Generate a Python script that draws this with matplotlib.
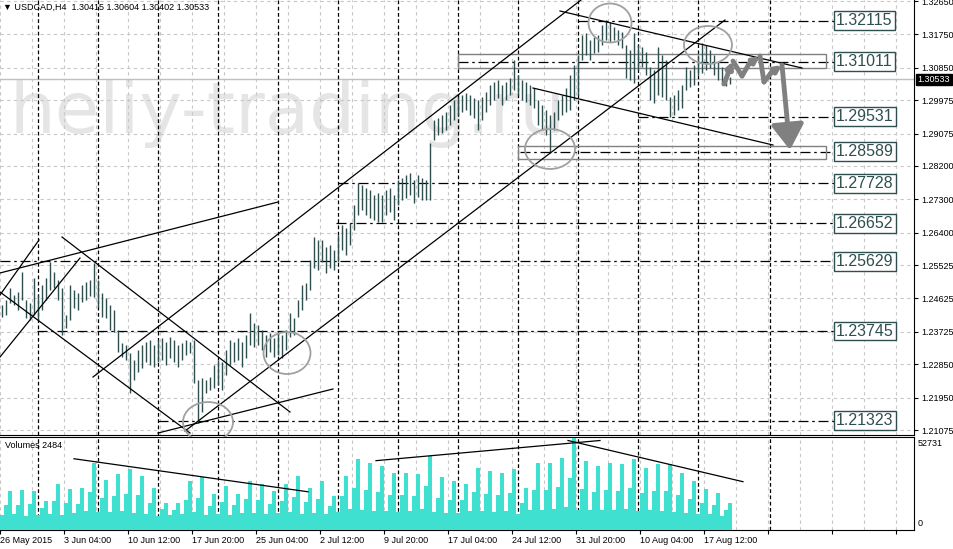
import numpy as np
import matplotlib.pyplot as plt
from matplotlib.patches import Ellipse, Rectangle
from matplotlib.transforms import blended_transform_factory

plt.rcParams['font.family'] = ['Liberation Sans', 'DejaVu Sans']

# USDCAD H4, one entry per two H4 bars (26 May 2015 20:00 ... 19 Aug 2015)
high = [
    1.2444, 1.2458, 1.2490, 1.2472, 1.2480, 1.2534, 1.2458, 1.2450, 1.2517, 1.2472,
    1.2499, 1.2517, 1.2561, 1.2534, 1.2512, 1.2490, 1.2418, 1.2499, 1.2485, 1.2477,
    1.2499, 1.2507, 1.2512, 1.2558, 1.2512, 1.2477, 1.2463, 1.2444, 1.2431, 1.2377,
    1.2342, 1.2337, 1.2315, 1.2296, 1.2323, 1.2337, 1.2345, 1.2350, 1.2337, 1.2350,
    1.2355, 1.2345, 1.2358, 1.2350, 1.2337, 1.2342, 1.2350, 1.2345, 1.2350, 1.2242,
    1.2247, 1.2242, 1.2250, 1.2283, 1.2296, 1.2291, 1.2323, 1.2350, 1.2345, 1.2355,
    1.2345, 1.2364, 1.2423, 1.2396, 1.2391, 1.2377, 1.2364, 1.2369, 1.2355, 1.2369,
    1.2364, 1.2377, 1.2423, 1.2409, 1.2458, 1.2499, 1.2504, 1.2566, 1.2628, 1.2620,
    1.2620, 1.2601, 1.2607, 1.2593, 1.2634, 1.2661, 1.2652, 1.2666, 1.2715, 1.2774,
    1.2769, 1.2760, 1.2755, 1.2742, 1.2747, 1.2742, 1.2755, 1.2760, 1.2742, 1.2782,
    1.2787, 1.2796, 1.2801, 1.2782, 1.2796, 1.2787, 1.2782, 1.2882, 1.2944, 1.2949,
    1.2958, 1.2966, 1.2985, 1.2998, 1.3006, 1.3012, 1.3017, 1.3012, 1.3003, 1.2998,
    1.3006, 1.3020, 1.3039, 1.3047, 1.3052, 1.3039, 1.3047, 1.3057, 1.3106, 1.3066,
    1.3052, 1.3047, 1.3039, 1.3030, 1.2998, 1.2985, 1.2971, 1.2958, 1.2966, 1.2998,
    1.3012, 1.3030, 1.3066, 1.3093, 1.3120, 1.3174, 1.3179, 1.3160, 1.3168, 1.3174,
    1.3201, 1.3214, 1.3209, 1.3195, 1.3187, 1.3182, 1.3147, 1.3133, 1.3179, 1.3147,
    1.3141, 1.3128, 1.3087, 1.3079, 1.3141, 1.3120, 1.3106, 1.3006, 1.3012, 1.3025,
    1.3039, 1.3087, 1.3079, 1.3093, 1.3120, 1.3152, 1.3147, 1.3133, 1.3120, 1.3101,
    1.3087, 1.3075, 1.3060]
low = [
    1.2412, 1.2418, 1.2450, 1.2444, 1.2431, 1.2458, 1.2409, 1.2404, 1.2418, 1.2404,
    1.2431, 1.2458, 1.2485, 1.2490, 1.2458, 1.2364, 1.2382, 1.2404, 1.2436, 1.2431,
    1.2453, 1.2458, 1.2469, 1.2466, 1.2439, 1.2412, 1.2409, 1.2377, 1.2372, 1.2318,
    1.2304, 1.2296, 1.2207, 1.2242, 1.2264, 1.2274, 1.2291, 1.2283, 1.2277, 1.2291,
    1.2296, 1.2283, 1.2301, 1.2291, 1.2277, 1.2296, 1.2310, 1.2315, 1.2234, 1.2126,
    1.2156, 1.2207, 1.2215, 1.2220, 1.2229, 1.2215, 1.2256, 1.2283, 1.2291, 1.2296,
    1.2277, 1.2301, 1.2337, 1.2331, 1.2337, 1.2323, 1.2304, 1.2318, 1.2304, 1.2310,
    1.2301, 1.2323, 1.2358, 1.2364, 1.2412, 1.2431, 1.2458, 1.2485, 1.2544, 1.2539,
    1.2561, 1.2531, 1.2544, 1.2539, 1.2561, 1.2593, 1.2580, 1.2607, 1.2647, 1.2688,
    1.2701, 1.2688, 1.2679, 1.2674, 1.2669, 1.2669, 1.2688, 1.2696, 1.2674, 1.2715,
    1.2728, 1.2733, 1.2742, 1.2720, 1.2736, 1.2728, 1.2728, 1.2728, 1.2890, 1.2904,
    1.2909, 1.2917, 1.2931, 1.2944, 1.2958, 1.2966, 1.2971, 1.2958, 1.2949, 1.2917,
    1.2944, 1.2966, 1.2985, 1.2998, 1.3003, 1.2985, 1.2998, 1.3012, 1.3025, 1.3012,
    1.2998, 1.2993, 1.2985, 1.2976, 1.2931, 1.2917, 1.2904, 1.2855, 1.2917, 1.2944,
    1.2958, 1.2966, 1.2971, 1.2998, 1.3012, 1.3106, 1.3120, 1.3106, 1.3125, 1.3128,
    1.3147, 1.3160, 1.3155, 1.3160, 1.3147, 1.3138, 1.3057, 1.3052, 1.3044, 1.3079,
    1.3087, 1.3066, 1.2998, 1.2990, 1.3012, 1.3006, 1.2998, 1.2952, 1.2958, 1.2971,
    1.2976, 1.3025, 1.3033, 1.3039, 1.3066, 1.3071, 1.3079, 1.3084, 1.3066, 1.3052,
    1.3039, 1.3035, 1.3040]

# tick volume in thousands, same sampling (3 per day)
volume_k = [
    8.1, 14.3, 22.3, 8.8, 13.9, 22.9, 7.9, 14.8, 22.3, 8.2, 12.1, 16.6,
    9.0, 16.2, 26.4, 8.5, 15.0, 23.5, 9.3, 14.6, 24.0, 10.4, 21.8, 38.4,
    9.8, 17.9, 28.6, 10.1, 19.5, 32.0, 10.9, 20.2, 35.0, 9.5, 19.6, 31.0,
    9.1, 15.4, 24.0, 7.8, 11.9, 15.5, 8.3, 11.4, 15.0, 9.2, 17.1, 28.0,
    9.9, 18.3, 30.0, 8.4, 13.8, 20.6, 9.0, 15.9, 25.0, 8.6, 14.2, 20.6,
    9.6, 17.4, 28.0, 9.3, 16.8, 26.4, 8.7, 14.5, 22.3, 9.4, 16.6, 26.4,
    10.2, 18.8, 31.0, 9.0, 15.7, 24.0, 9.5, 17.6, 28.0, 8.8, 13.4, 19.0,
    10.3, 19.0, 31.0, 11.6, 24.1, 40.7, 11.2, 22.9, 38.4, 10.9, 21.6, 36.7,
    10.5, 20.1, 32.7, 10.2, 19.8, 32.7, 10.4, 19.2, 32.0, 11.8, 24.8, 42.4,
    10.0, 18.4, 30.0, 9.7, 17.2, 28.0, 9.4, 16.9, 26.4, 10.8, 21.3, 35.5,
    10.6, 20.4, 33.8, 10.3, 19.9, 32.7, 10.7, 21.0, 35.0, 9.2, 15.5, 24.0,
    11.1, 22.6, 38.4, 11.3, 23.0, 38.4, 11.7, 24.4, 41.0, 13.2, 29.9, 52.7,
    11.5, 23.5, 39.5, 11.0, 21.8, 36.7, 11.2, 22.7, 38.4, 11.1, 22.3, 37.8,
    11.6, 24.0, 40.7, 10.8, 21.1, 35.5, 11.0, 22.4, 37.8, 10.9, 22.1, 37.8,
    10.3, 19.6, 32.7, 9.7, 17.3, 28.0, 9.1, 15.2, 23.5, 8.8, 14.0, 21.0,
    8.0, 11.0, 15.0]

date_labels = ['26 May 2015', '3 Jun 04:00', '10 Jun 12:00', '17 Jun 20:00',
               '25 Jun 04:00', '2 Jul 12:00', '9 Jul 20:00', '17 Jul 04:00',
               '24 Jul 12:00', '31 Jul 20:00', '10 Aug 04:00', '17 Aug 12:00']
price_ticks = [1.32650, 1.31750, 1.30850, 1.29975, 1.29075, 1.28200, 1.27300,
               1.26400, 1.25525, 1.24625, 1.23725, 1.22850, 1.21950, 1.21075]

# horizontal levels and the bar index where each starts
levels = [1.32115, 1.31011, 1.29531, 1.28589, 1.27728, 1.26652, 1.25629, 1.23745, 1.21323]
level_start = [288.5, 228.5, 318.5, 259.5, 168.5, 167.5, -0.5, 18, 78.5]

# trend lines (bar index, price)
trend_lines = [
    ((46, 1.22505), (290, 1.32678)),
    ((92, 1.21048), (362, 1.32138)),
    ((-0.5, 1.24718), (19, 1.26202)),
    ((-0.5, 1.23045), (39.5, 1.25716)),
    ((-0.5, 1.25312), (138.5, 1.27227)),
    ((-0.5, 1.24799), (94.5, 1.20994)),
    ((30.5, 1.26283), (144.5, 1.21561)),
    ((78.5, 1.20994), (166, 1.22182)),
    ((279.5, 1.32381), (400.5, 1.30843)),
    ((266, 1.30303), (386, 1.28765)),
]
vol_lines = [
    ((36.5, 40700), (153.5, 21700)),
    ((187.5, 39600), (299.5, 51200)),
    ((283.5, 51200), (371, 27500)),
]
# circles: centre bar, centre price, width (bars), height (price)
circles = [(103.5, 1.21291, 25, 0.01079), (143, 1.23153, 23.5, 0.01133),
           (274.5, 1.28658, 25, 0.01079), (304.5, 1.32057, 21.5, 0.01052),
           (353.5, 1.31464, 24, 0.01025)]
boxes = [(228.5, 412.5, 1.30835, 1.31213), (258.5, 412.5, 1.28388, 1.28738)]
zig_x = [361.5, 366, 370.5, 374, 379.5, 381.5, 385, 390.5, 394.5]
zig_y = [1.30411, 1.31032, 1.30627, 1.30951, 1.31167, 1.30465, 1.30708, 1.30924, 1.28631]
separators = [18.5 + 30 * k for k in range(12)] + [384.5]

bar_color = '#2F4F4F'
grid_kw = dict(color='#C8C8C8', ls=(0, (3, 3)), lw=0.8)

fig = plt.figure(figsize=(9.54, 5.49), dpi=100)
ax = fig.add_axes([0, 1 - 434.5 / 549, 914 / 954, 434.5 / 549])
axv = fig.add_axes([0, 1 - 529.5 / 549, 914 / 954, 93 / 549])

xs = 2 * np.arange(len(high)) + 0.5
major = np.arange(-0.5, 457, 32)
minor = np.arange(15.5, 457, 32)
for a in (ax, axv):
    a.set_xlim(-0.5, 456.5)
    a.set_xticks(major)
    a.set_xticks(minor, minor=True)
    a.spines['left'].set_visible(False)
    a.spines['top'].set_visible(False)
axv.spines['top'].set_visible(True)

# price panel
ax.set_ylim(1.20954, 1.32678)
ax.yaxis.tick_right()
ax.set_yticks(price_ticks)
ax.set_yticklabels([f'{t:.5f}' for t in price_ticks])
ax.tick_params(axis='y', direction='out', length=3, labelsize=6.5, pad=2)
ax.tick_params(axis='x', which='both', length=0, labelbottom=False)
ax.grid(True, which='both', **grid_kw)

ax.text(4.5, 1.29089, 'heliy-trading.ru', fontsize=52, color='#E5E5E5',
        family='DejaVu Sans', va='baseline', ha='left', zorder=0.5)
ax.axhline(1.30533, color='#C0C0C0', lw=1, zorder=1.6)

ax.vlines(xs, low, high, color=bar_color, lw=1, zorder=3)

for x in separators:
    ax.axvline(x, color='black', ls=(0, (3, 2)), lw=0.9, zorder=2)
    axv.axvline(x, color='black', ls=(0, (3, 2)), lw=0.9, zorder=2)

for val, x0 in zip(levels, level_start):
    ax.hlines(val, x0, 417, colors='black', linestyles=[(0, (8, 3, 2, 3))], lw=0.9, zorder=2)
    ax.text(417.6, val, f'{val:.5f}', ha='left', va='center', fontsize=11.5,
            color=bar_color, zorder=5,
            bbox=dict(boxstyle='square,pad=0.12', fc='white', ec=bar_color, lw=1))

for x0, x1, y0, y1 in boxes:
    ax.add_patch(Rectangle((x0, y0), x1 - x0, y1 - y0, fill=False, ec='#808080', lw=1, zorder=2.5))

for (x0, y0), (x1, y1) in trend_lines:
    ax.plot([x0, x1], [y0, y1], color='black', lw=0.9, zorder=4)

for i, (cx, cy, w, h) in enumerate(circles):
    ax.add_patch(Ellipse((cx, cy), w, h, fill=False, ec='#A0A0A0', lw=1.3,
                         zorder=4, clip_on=(i != 0)))

heads = [1, 4, 7]
for i in range(len(zig_x) - 1):
    if i + 1 in heads:
        ax.annotate('', xy=(zig_x[i + 1], zig_y[i + 1]), xytext=(zig_x[i], zig_y[i]),
                    arrowprops=dict(arrowstyle='-|>', mutation_scale=9, color='#808080',
                                    lw=3.5, shrinkA=0, shrinkB=0), zorder=5)
    elif i == len(zig_x) - 2:
        ax.annotate('', xy=(zig_x[i + 1], zig_y[i + 1]), xytext=(zig_x[i], zig_y[i]),
                    arrowprops=dict(arrowstyle='-|>,head_width=0.45,head_length=0.7',
                                    mutation_scale=22, color='#808080', lw=3.5,
                                    shrinkA=0, shrinkB=0), zorder=5)
    else:
        ax.plot(zig_x[i:i + 2], zig_y[i:i + 2], color='#808080', lw=3.5,
                solid_capstyle='round', zorder=5)

bt = blended_transform_factory(ax.transAxes, ax.transData)
ax.text(1.004, 1.30533, '1.30533', transform=bt, ha='left', va='center', fontsize=6.5,
        color='white', clip_on=False,
        bbox=dict(boxstyle='square,pad=0.15', fc='black', ec='black'))

fig.text(3 / 954, 1 - 7 / 549, '\u25bc USDCAD,H4  1.30415 1.30604 1.30402 1.30533',
         fontsize=6.5, va='center', ha='left')

# volume panel
axv.bar(xs, np.array(volume_k) * 1000, width=2, color='#40E0D0', lw=0, zorder=3)
axv.set_ylim(0, 53500)
axv.set_yticks([])
axv.grid(True, axis='x', which='both', **grid_kw)
labels = date_labels + [''] * (len(major) - len(date_labels))
axv.set_xticklabels(labels, ha='left')
axv.tick_params(axis='x', which='major', direction='out', length=3, labelsize=6.5, pad=2)
axv.tick_params(axis='x', which='minor', length=0)
for (x0, y0), (x1, y1) in vol_lines:
    axv.plot([x0, x1], [y0, y1], color='black', lw=0.9, zorder=4)
fig.text(5 / 954, 1 - 445 / 549, 'Volumes 2484', fontsize=6.5, va='center')
fig.text(918 / 954, 1 - 444 / 549, '52731', fontsize=6.5, va='center')
fig.text(918 / 954, 1 - 524 / 549, '0', fontsize=6.5, va='center')

fig.savefig('out.png', dpi=100)
